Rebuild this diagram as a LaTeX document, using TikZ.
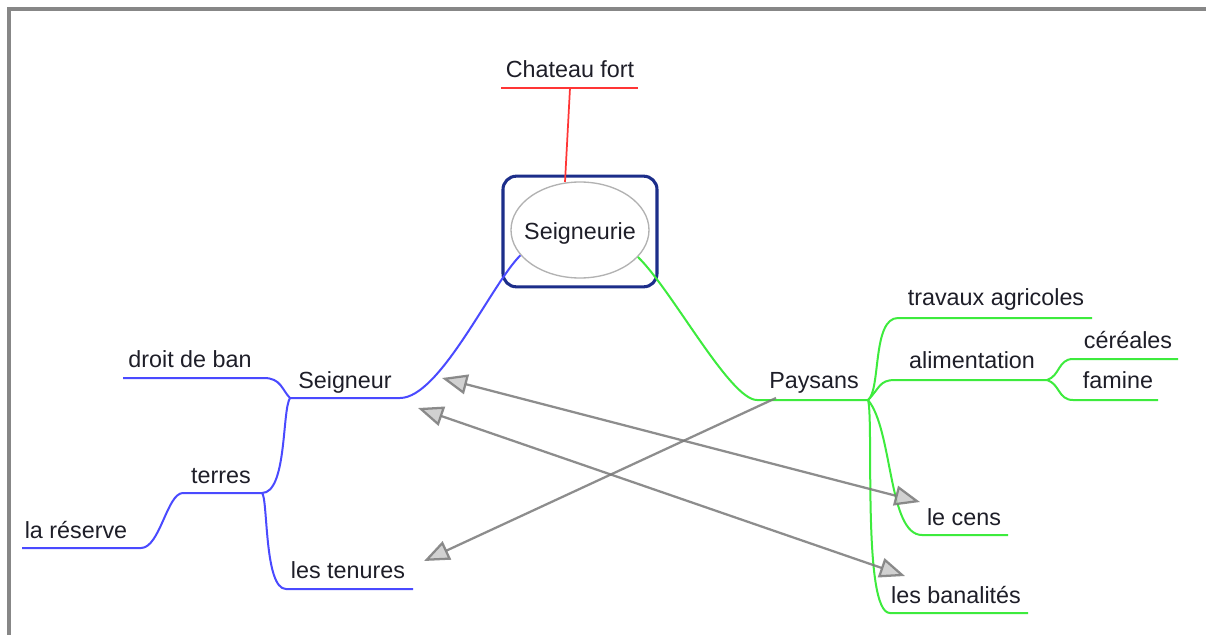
\documentclass[tikz,border=0pt]{standalone}
\usepackage{fontspec}
\setmainfont{Liberation Sans}
\usetikzlibrary{arrows.meta,shapes.geometric}
\definecolor{mblue}{HTML}{4A4AFF}
\definecolor{mgreen}{HTML}{3DEB3D}
\definecolor{mred}{HTML}{FF3535}
\definecolor{mnavy}{HTML}{1C2E8A}
\definecolor{mtext}{HTML}{1E1E28}
\definecolor{mgrey}{HTML}{7A7A7A}
\begin{document}
\begin{tikzpicture}[x=0.75pt,y=-0.75pt,
  lbl/.style={anchor=base,inner sep=0pt,text=mtext,font=\fontsize{17.5}{20}\selectfont},
  bl/.style={draw=mblue,line width=1.5pt},
  gr/.style={draw=mgreen,line width=1.5pt},
  rd/.style={draw=mred,line width=1.3pt},
  rel/.style={draw=mgrey,line width=1.7pt,opacity=0.85,
    arrows={-Triangle[length=19pt,width=15pt,fill=mgrey!40]}},
  relb/.style={draw=mgrey,line width=1.7pt,opacity=0.85,
    arrows={Triangle[length=19pt,width=15pt,fill=mgrey!40]-Triangle[length=19pt,width=15pt,fill=mgrey!40]}}]
\useasboundingbox (0,0) rectangle (1206,635);
\fill[white] (0,0) rectangle (1206,635);
% frame
\coordinate (fr1) at (9,640);
\coordinate (fr2) at (9,9);
\coordinate (fr3) at (1210,9);
\draw[draw=mgrey!90,line width=2.4pt] (fr1) -- (fr2) -- (fr3);

% central node
\node[draw=mnavy,line width=2.3pt,rounded corners=10pt,minimum width=115.5pt,minimum height=83pt] (box) at (580,231.5) {};
\node[ellipse,draw=gray!60,line width=1pt,minimum width=103.5pt,minimum height=72pt,inner sep=0pt] (sgr) at (580,230) {};
\node[lbl] (sgrt) at (580,239) {Seigneurie};

% Chateau fort
\node[lbl] (cf) at (570,78) {Chateau fort};
\coordinate (cfL) at (501,88);
\coordinate (cfR) at (638,88);
\coordinate (cfM) at (570,88);
\coordinate (cfE) at (565,182);
\draw[rd] (cfL) -- (cfR);
\draw[rd] (cfM) -- (cfE);

% Seigneur branch
\node[lbl] (sg) at (345,388) {Seigneur};
\coordinate (sgL) at (290,398);
\coordinate (sgR) at (400,398);
\draw[bl] (sgr.203) .. controls (492,283) and (440,398) .. (sgR) -- (sgL);

\node[lbl] (db) at (190,367) {droit de ban};
\coordinate (dbR) at (264,378);
\coordinate (dbL) at (123,378);
\draw[bl] (sgL) .. controls (282,390) and (281,378) .. (dbR) -- (dbL);

\node[lbl] (tr) at (221,483) {terres};
\coordinate (trR) at (262,493);
\coordinate (trL) at (183,493);
\draw[bl] (sgL) .. controls (282,410) and (287,493) .. (trR) -- (trL);

\node[lbl] (rs) at (76,538) {la réserve};
\coordinate (rsR) at (141,548);
\coordinate (rsL) at (22,548);
\draw[bl] (trL) .. controls (167,493) and (160,548) .. (rsR) -- (rsL);

\node[lbl] (tn) at (348,578) {les tenures};
\coordinate (tnL) at (286,589);
\coordinate (tnR) at (413,589);
\draw[bl] (trR) .. controls (268,498) and (264,589) .. (tnL) -- (tnR);

% Paysans branch
\node[lbl] (py) at (814,388) {Paysans};
\coordinate (pyL) at (757,400);
\coordinate (pyJ) at (868,400);
\draw[gr] (sgr.335) .. controls (672,290) and (730,400) .. (pyL) -- (pyJ);

\node[lbl] (ta) at (996,305) {travaux agricoles};
\coordinate (taL) at (898,318);
\coordinate (taR) at (1092,318);
\draw[gr] (pyJ) .. controls (881,390) and (872,318) .. (taL) -- (taR);

\node[lbl] (al) at (972,368) {alimentation};
\coordinate (alL) at (895,380);
\coordinate (alR) at (1047,380);
\draw[gr] (pyJ) .. controls (880,388) and (879,380) .. (alL) -- (alR);

\node[lbl] (ce) at (1128,348) {céréales};
\coordinate (ceL) at (1073,359);
\coordinate (ceR) at (1178,359);
\draw[gr] (alR) .. controls (1060,376) and (1058,359) .. (ceL) -- (ceR);

\node[lbl] (fa) at (1118,388) {famine};
\coordinate (faL) at (1073,400);
\coordinate (faR) at (1158,400);
\draw[gr] (alR) .. controls (1060,384) and (1058,400) .. (faL) -- (faR);

\node[lbl] (lc) at (964,525) {le cens};
\coordinate (lcL) at (922,535);
\coordinate (lcR) at (1008,535);
\draw[gr] (pyJ) .. controls (893,430) and (888,535) .. (lcL) -- (lcR);

\node[lbl] (bn) at (956,603) {les banalités};
\coordinate (bnL) at (890,613);
\coordinate (bnR) at (1028,613);
\draw[gr] (pyJ) .. controls (874,420) and (862,613) .. (bnL) -- (bnR);

% relations
\coordinate (a1s) at (442,378);
\coordinate (a1e) at (920,502);
\coordinate (a2s) at (418,408);
\coordinate (a2e) at (905,576);
\coordinate (a3s) at (776,398);
\coordinate (a3e) at (424,561);
\draw[relb] (a1s) -- (a1e);
\draw[relb] (a2s) -- (a2e);
\draw[rel] (a3s) -- (a3e);
\end{tikzpicture}
\end{document}
